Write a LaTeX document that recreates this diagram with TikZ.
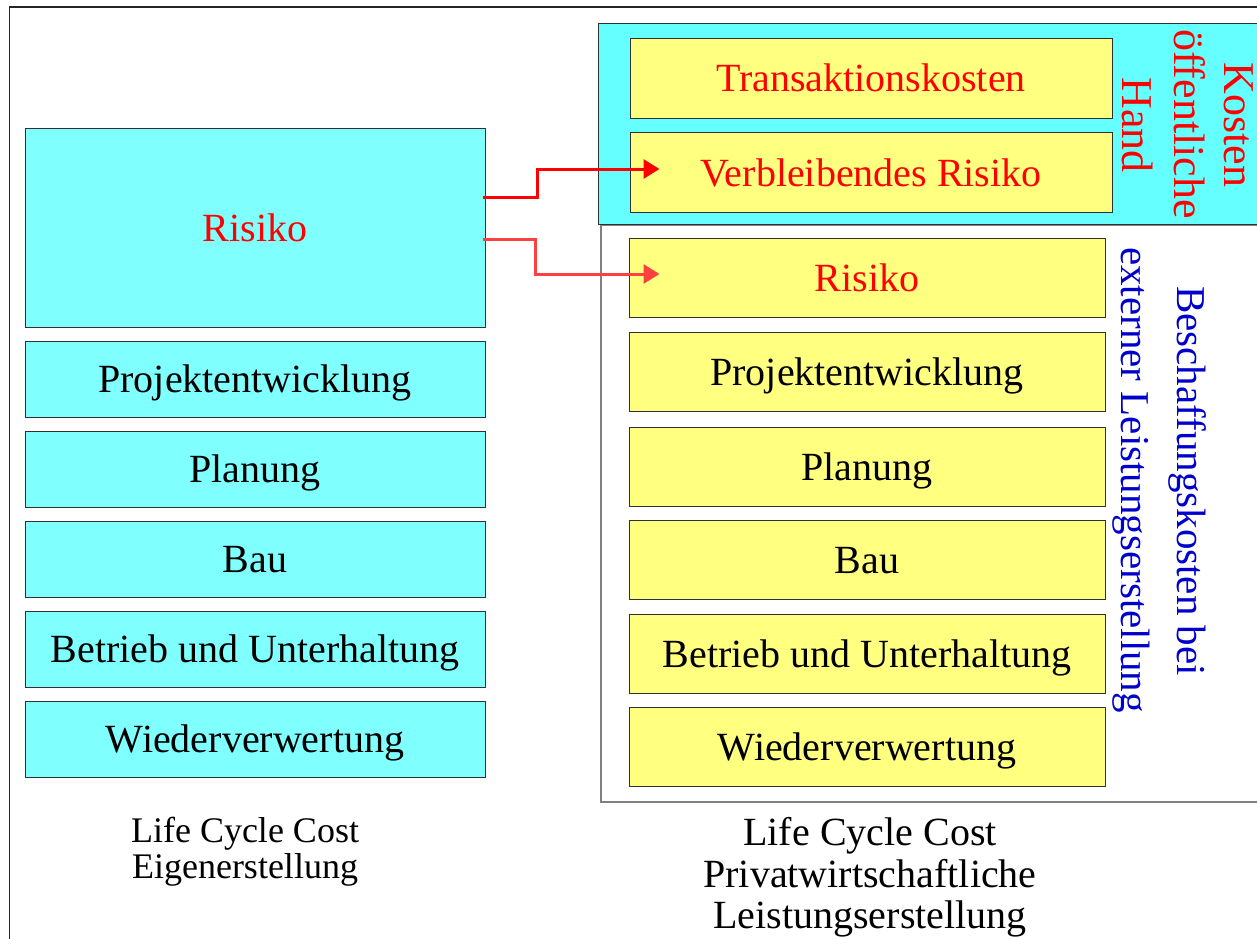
\documentclass[tikz,border=0pt]{standalone}
\usepackage{fontspec}
\setmainfont{Liberation Serif}
\usetikzlibrary{arrows.meta,calc}
\definecolor{lcyan}{HTML}{80FFFF}
\definecolor{tcyan}{HTML}{66FFFF}
\definecolor{lyel}{HTML}{FFFF80}
\definecolor{bord}{HTML}{303030}
\definecolor{greybord}{HTML}{808080}
\definecolor{txtblue}{HTML}{0000CC}
\definecolor{arrredA}{HTML}{FF0000}
\definecolor{arrredB}{HTML}{FF4040}
\begin{document}
\begin{tikzpicture}[x=1pt,y=-1pt,
  boxfont/.style={font=\fontsize{40}{48}\selectfont,text height=35.6pt,text depth=8.6pt,inner sep=0pt},
  cbox/.style={boxfont,draw=bord,line width=1pt,fill=lcyan,minimum width=460pt,minimum height=76pt},
  ybox/.style={boxfont,draw=bord,line width=1pt,fill=lyel,minimum width=476pt,minimum height=79pt},
  tbox/.style={ybox,minimum width=482pt,minimum height=80pt},
  rottext/.style={rotate=-90,anchor=base,inner sep=0pt},
  kosttext/.style={rottext,text=red,font=\fontsize{44}{52}\selectfont},
  beschtext/.style={rottext,text=txtblue,font=\fontsize{41}{52}\selectfont},
  lablft/.style={anchor=base,inner sep=0pt,font=\fontsize{36}{40}\selectfont},
  labrgt/.style={anchor=base,inner sep=0pt,font=\fontsize{40}{44}\selectfont},
  arrline/.style={line width=3pt,-{Triangle[length=16pt,width=19pt]}}
]
\useasboundingbox (0,0) rectangle (1257,938);
\fill[white] (0,0) rectangle (1257,938);
% outer frame
\draw[line width=1.5pt,black!85] (9.5,945) -- (9.5,7) -- (1265,7);

% left column
\node[cbox,minimum height=199pt,text=red] (lrisk) at (255,227.5) {Risiko};
\node[cbox] (lproj) at (255,379) {Projektentwicklung};
\node[cbox] (lplan) at (255,469) {Planung};
\node[cbox] (lbau)  at (255,559) {Bau};
\node[cbox] (lbetr) at (255,649) {Betrieb und Unterhaltung};
\node[cbox] (lwied) at (255,739) {Wiederverwertung};

\node[lablft] (llab1) at (245,842) {Life Cycle Cost};
\node[lablft] (llab2) at (245,878) {Eigenerstellung};

% right containers
\node[draw=greybord,line width=2pt,fill=white,anchor=north west,minimum width=690pt,minimum height=577pt,inner sep=0pt] (bgrp) at (600,224) {};
\node[draw=bord,line width=1pt,fill=tcyan,anchor=north west,minimum width=690pt,minimum height=201pt,inner sep=0pt] (kgrp) at (598,23) {};

% top yellow
\node[tbox,text=red] (trans) at (871,78) {Transaktionskosten};
\node[tbox,text=red] (vrisk) at (871,172.5) {Verbleibendes Risiko};

% lower yellow
\node[ybox,text=red] (rrisk) at (867,277.5) {Risiko};
\node[ybox] (rproj) at (867,371.5) {Projektentwicklung};
\node[ybox] (rplan) at (867,466.5) {Planung};
\node[ybox] (rbau)  at (867,559.5) {Bau};
\node[ybox] (rbetr) at (867,653.5) {Betrieb und Unterhaltung};
\node[ybox] (rwied) at (867,746.5) {Wiederverwertung};

% rotated texts
\node[kosttext] (k1) at (1224,125) {Kosten};
\node[kosttext] (k2) at (1174,124) {öffentliche};
\node[kosttext] (k3) at (1122,125) {Hand};
\node[beschtext] (b1) at (1177,481) {Beschaffungskosten bei};
\node[beschtext] (b2) at (1121,480) {externer Leistungserstellung};

% right labels
\node[labrgt] (rlab1) at (870,845) {Life Cycle Cost};
\node[labrgt] (rlab2) at (870,887) {Privatwirtschaftliche};
\node[labrgt] (rlab3) at (870,928) {Leistungserstellung};

% arrows
\coordinate (a1s) at ($(lrisk.east)+(-3,-30.5)$);
\coordinate (a1e) at ($(vrisk.west)+(30,-3.5)$);
\coordinate (a2s) at ($(lrisk.east)+(-3,11.5)$);
\coordinate (a2e) at ($(rrisk.west)+(31,-3.5)$);
\draw[arrline,arrredA] (a1s) -- ++(55,0) |- (a1e);
\draw[arrline,arrredB] (a2s) -- ++(53,0) |- (a2e);
\end{tikzpicture}
\end{document}
